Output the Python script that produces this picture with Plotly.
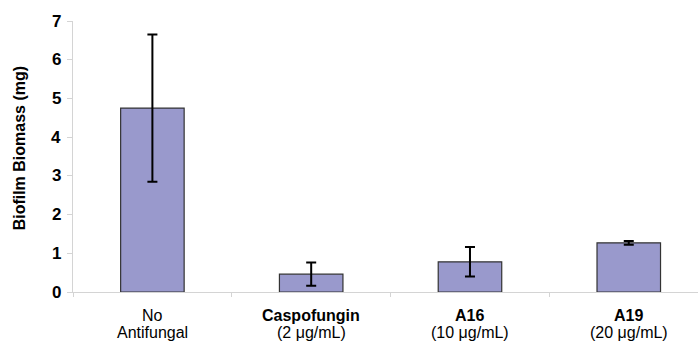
import plotly.graph_objects as go

# Biofilm biomass per treatment (mean ± error)
categories = ["No Antifungal", "Caspofungin", "A16", "A19"]
label_line1 = ["No", "<b>Caspofungin</b>", "<b>A16</b>", "<b>A19</b>"]
label_line2 = ["Antifungal", "(2 μg/mL)", "(10 μg/mL)", "(20 μg/mL)"]
biomass_mg = [4.75, 0.46, 0.78, 1.27]
error_mg = [1.9, 0.3, 0.38, 0.05]
y_ticks = [0, 1, 2, 3, 4, 5, 6, 7]

FONT = "Liberation Sans, Arial, sans-serif"

fig = go.Figure(
    go.Bar(
        x=categories,
        y=biomass_mg,
        width=0.4,
        marker=dict(color="#9999cc", line=dict(color="#333333", width=1.2)),
        error_y=dict(type="data", array=error_mg, color="black", thickness=2, width=5),
    )
)

fig.update_layout(
    width=698,
    height=342,
    margin=dict(l=73, r=0, t=21, b=50),
    plot_bgcolor="white",
    paper_bgcolor="white",
    showlegend=False,
    font=dict(family=FONT, color="black"),
)

fig.update_xaxes(
    type="category",
    range=[-0.5, 3.436],
    showline=True,
    linecolor="#d4d4d4",
    linewidth=1,
    ticks="outside",
    tickson="boundaries",
    ticklen=4,
    tickcolor="#d4d4d4",
    showticklabels=False,
    showgrid=False,
)

fig.update_yaxes(
    range=[0, 7],
    tickvals=y_ticks,
    showticklabels=False,
    showline=True,
    linecolor="#d4d4d4",
    linewidth=1,
    ticks="outside",
    ticklen=5,
    tickcolor="#d4d4d4",
    showgrid=False,
    zeroline=False,
)

# Bold value labels beside the y ticks
for v in y_ticks:
    fig.add_annotation(
        text=f"<b>{v}</b>", x=(63 - 73) / 625, xref="paper", y=v, yref="y",
        xanchor="right", yanchor="middle", showarrow=False,
        font=dict(size=17, family=FONT),
    )

# Two-line category labels under the axis
for cat, l1, l2 in zip(categories, label_line1, label_line2):
    for text, ypos in ((l1, -0.085), (l2, -0.151)):
        fig.add_annotation(
            text=text, x=cat, xref="x", y=ypos, yref="paper",
            xanchor="center", yanchor="middle", showarrow=False,
            font=dict(size=16, family=FONT),
        )

fig.add_annotation(
    text="<b>Biofilm Biomass (mg)</b>",
    textangle=-90,
    xref="paper",
    yref="paper",
    x=(19 - 73) / 625,
    y=0.53,
    xanchor="center",
    yanchor="middle",
    showarrow=False,
    font=dict(size=16),
)

fig.write_html("out.html")
